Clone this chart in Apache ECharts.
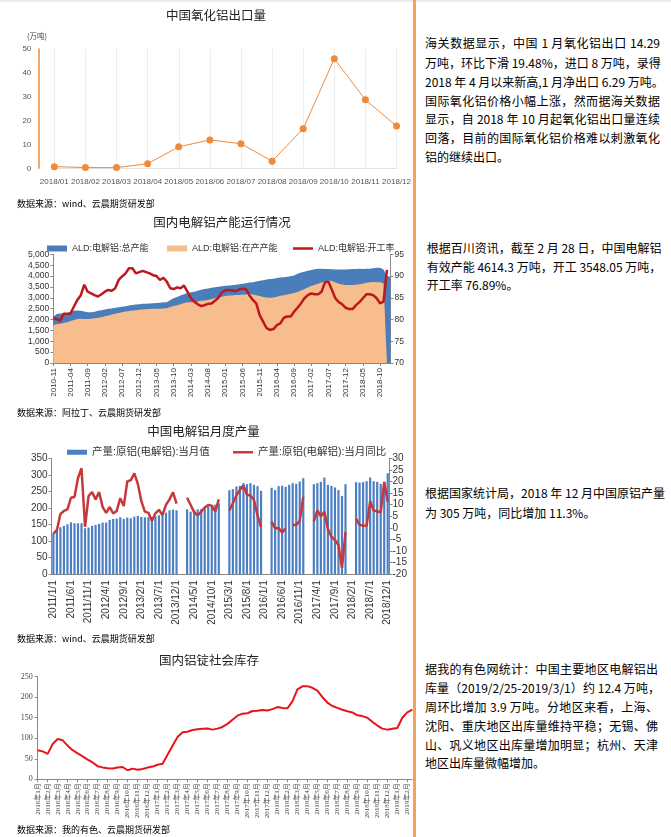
<!DOCTYPE html>
<html><head><meta charset="utf-8">
<script src="https://cdn.jsdelivr.net/npm/echarts@6/dist/echarts.min.js"></script>
<style>
body{margin:0;width:671px;height:837px;position:relative;background:#fff;overflow:hidden;font-family:"Noto Sans CJK SC",sans-serif;}
#topband{position:absolute;left:0;top:0;width:671px;height:2px;background:#ececec;}
.ch{position:absolute;left:0;width:414px;}
.t{position:absolute;white-space:nowrap;transform:translate(-50%,-50%);font-size:12.5px;color:#222;}
.src{position:absolute;left:17px;white-space:nowrap;font-size:9px;color:#000;transform:translateY(-50%);}
.unit{position:absolute;left:27px;top:30px;font-size:7.5px;color:#444;white-space:nowrap;}
.ln{position:absolute;white-space:nowrap;font-size:12px;line-height:16px;color:#000;text-align:justify;text-align-last:justify;}
.ln.l{text-align-last:left;}
#divider{position:absolute;left:413px;top:0;width:2.5px;height:837px;background:#f3a25c;}
</style></head>
<body>
<div id="topband"></div>
<div id="c1" class="ch" style="top:0;height:195px;"></div>
<div id="c2" class="ch" style="top:205px;height:205px;"></div>
<div id="c3" class="ch" style="top:415px;height:225px;"></div>
<div id="c4" class="ch" style="top:640px;height:197px;"></div>

<div class="t" style="left:216px;top:13.5px;">中国氧化铝出口量</div>
<div class="unit">(万吨)</div>
<div class="src" style="top:203px;">数据来源：wind、云晨期货研发部</div>
<div class="t" style="left:222px;top:221px;">国内电解铝产能运行情况</div>
<div class="src" style="top:411.7px;">数据来源：阿拉丁、云晨期货研发部</div>
<div class="t" style="left:203.5px;top:430px;">中国电解铝月度产量</div>
<div class="src" style="top:637.7px;">数据来源：wind、云晨期货研发部</div>
<div class="t" style="left:209px;top:659px;">国内铝锭社会库存</div>
<div class="src" style="top:829px;">数据来源：我的有色、云晨期货研发部</div>

<div id="divider"></div>

<div class="ln" style="left:425px;width:235px;top:35.3px;">海关数据显示，中国 1 月氧化铝出口 14.29</div>
<div class="ln" style="left:425px;width:235px;top:54.7px;">万吨，环比下滑 19.48%，进口 8 万吨，录得</div>
<div class="ln" style="left:425px;width:238px;top:73.7px;">2018 年 4 月以来新高,1 月净出口 6.29 万吨。</div>
<div class="ln" style="left:425px;width:235px;top:92.7px;">国际氧化铝价格小幅上涨，然而据海关数据</div>
<div class="ln" style="left:425px;width:235px;top:111.3px;">显示，自 2018 年 10 月起氧化铝出口量连续</div>
<div class="ln" style="left:425px;width:235px;top:130px;">回落，目前的国际氧化铝价格难以刺激氧化</div>
<div class="ln l" style="left:425px;width:235px;top:148.7px;">铝的继续出口。</div>

<div class="ln" style="left:426.7px;width:233.5px;top:240.3px;">根据百川资讯，截至 2 月 28 日，中国电解铝</div>
<div class="ln" style="left:426.7px;width:232px;top:258.7px;">有效产能 4614.3 万吨，开工 3548.05 万吨，</div>
<div class="ln l" style="left:426.7px;width:232px;top:277px;">开工率 76.89%。</div>

<div class="ln" style="left:425px;width:236.7px;top:485.3px;">根据国家统计局，2018 年 12 月中国原铝产量</div>
<div class="ln l" style="left:425px;width:236px;top:505.3px;">为 305 万吨，同比增加 11.3%。</div>

<div class="ln" style="left:425px;width:233px;top:661.3px;">据我的有色网统计：中国主要地区电解铝出</div>
<div class="ln" style="left:425px;width:235px;top:680.3px;">库量（2019/2/25-2019/3/1）约 12.4 万吨，</div>
<div class="ln" style="left:425px;width:233px;top:698.7px;">周环比增加 3.9 万吨。分地区来看，上海、</div>
<div class="ln" style="left:425px;width:233px;top:717.7px;">沈阳、重庆地区出库量维持平稳；无锡、佛</div>
<div class="ln" style="left:425px;width:233px;top:737px;">山、巩义地区出库量增加明显；杭州、天津</div>
<div class="ln l" style="left:425px;width:233px;top:755.3px;">地区出库量微幅增加。</div>

<script>
// ---------- DATA ----------
// Chart 1: 中国氧化铝出口量 (万吨)
const aluminaMonths = ['2018/01','2018/02','2018/03','2018/04','2018/05','2018/06','2018/07','2018/08','2018/09','2018/10','2018/11','2018/12'];
const aluminaExport = [0.7,0.3,0.3,1.9,9.0,11.9,10.3,3.0,16.6,45.9,28.7,17.7];

// Chart 2: 国内电解铝产能运行情况 (monthly 2010-11 .. 2019-01)
function monthList(y, m, n, fmt) {
  const out = [];
  for (let i = 0; i < n; i++) { out.push(fmt(y, m)); m++; if (m > 12) { m = 1; y++; } }
  return out;
}
const capMonths = monthList(2010, 11, 99, (y, m) => y + '-' + String(m).padStart(2, '0'));
const capTotal = [2130,2250,2280,2290,2300,2360,2400,2420,2400,2370,2340,2330,2360,2400,2430,2460,2490,2510,2540,2570,
  2590,2610,2640,2670,2690,2700,2720,2730,2740,2750,2760,2770,2790,2800,2900,2980,3040,3100,3160,3220,
  3250,3280,3320,3370,3400,3430,3460,3480,3510,3530,3550,3560,3580,3600,3620,3640,3670,3700,3720,3750,
  3780,3810,3840,3860,3880,3910,3930,3950,3970,3990,4030,4100,4160,4200,4240,4280,4310,4330,4330,4320,
  4320,4310,4300,4300,4300,4300,4310,4320,4320,4330,4320,4330,4340,4360,4380,4380,4300,4000,3970];
const capRunning = [1750,1780,1800,1840,1880,1930,1980,2020,2030,2020,2020,2040,2055,2080,2110,2150,2190,2230,2270,2300,
  2340,2370,2390,2410,2430,2450,2460,2470,2480,2490,2500,2500,2510,2520,2580,2620,2660,2700,2760,2790,
  2790,2800,2830,2860,2880,2900,2940,2980,3030,3050,3080,3100,3110,3130,3130,3140,3150,3170,3150,3120,
  3080,3040,3010,3000,3010,3050,3090,3120,3150,3180,3220,3270,3330,3400,3470,3540,3600,3650,3700,3750,
  3790,3770,3700,3640,3610,3590,3590,3590,3600,3620,3650,3690,3720,3730,3720,3710,3660,0,0];
const capRate = [80.4,80.1,79.7,81.3,81.3,81.4,83.0,84.5,85.6,88.0,86.4,86.0,85.6,85.3,85.8,86.4,86.8,86.6,87.2,89.1,
  89.9,90.6,91.8,91.8,90.6,90.9,91.2,90.9,90.6,90.2,90.0,89.1,89.6,88.7,87.2,87.0,87.4,87.2,87.8,86.4,
  84.9,84.1,83.5,83.1,83.3,83.6,83.7,84.3,85.0,86.2,86.7,86.8,86.7,86.5,86.9,87.1,87.0,85.6,84.5,83.7,
  81.0,79.5,78.0,77.6,77.8,78.7,79.1,80.4,80.7,80.7,81.8,82.7,83.7,84.9,85.6,86.0,85.8,85.8,86.4,88.6,
  88.7,86.8,84.9,84.0,83.5,82.7,82.4,82.4,83.3,84.0,84.9,85.8,85.8,85.6,84.9,83.7,84.1,91.4,null];
const capLeftTicks = {min: 0, max: 5000, interval: 500};
const capRightTicks = {min: 70, max: 95, interval: 5};

// Chart 3: 中国电解铝月度产量 (monthly 2011/1 .. 2018/12)
const prodMonths = monthList(2011, 1, 96, (y, m) => y + '/' + m + '/1');
const prodValue = [
  124,133,142,146,151,157,154,154,154,139,141,146,
  149,152,156,156,164,167,168,172,167,171,169,174,
  176,173,172,172,173,175,178,183,186,193,195,193,
  null,null,196,189,194,196,197,200,204,209,210,214,
  null,null,254,257,265,267,275,272,275,270,266,252,
  null,null,261,254,266,267,264,270,275,273,280,290,
  null,null,272,275,279,292,270,267,262,254,236,272,
  null,null,278,277,278,281,292,281,279,273,279,305];
const prodYoY = [
  -2.5,-1.0,6.0,7.3,8.0,13.0,13.3,21.5,25.7,0.5,13.7,15.4,
  12.3,15.4,9.0,6.5,9.0,6.2,7.3,12.8,9.4,20.0,20.6,23.5,
  19.0,11.5,7.0,6.5,3.0,6.3,7.8,5.5,10.0,12.3,15.3,10.5,
  null,null,13.0,9.9,6.8,5.4,7.0,8.8,9.9,9.6,7.0,12.3,
  null,null,7.5,10.6,14.0,16.4,18.3,14.3,14.0,12.0,5.4,0.3,
  null,null,2.7,-0.2,0.0,-2.0,-0.2,null,1.3,1.3,3.0,13.5,
  null,null,2.8,7.5,5.0,7.0,-0.5,-3.8,-5.2,-7.4,-17.2,-1.8,
  null,null,4.0,1.3,1.0,0.9,11.5,7.5,7.2,6.7,19.8,11.3];

// Chart 4: 国内铝锭社会库存 (half-monthly 2016-01 .. 2019-02)
const stockDates = [];
(function () {
  let y = 2016, m = 1;
  for (let i = 0; i < 76; i++) {
    stockDates.push(i % 2 === 0 ? (y + '年' + m + '月') : (y + '年' + m + '月下'));
    if (i % 2 === 1) { m++; if (m > 12) { m = 1; y++; } }
  }
})();
const stockValue = [71,68,62,86,98,95,82,71,63,56,48,41,32,29,27,26.5,28.5,30,22,26,
  23.5,25,28.5,31,35.5,38,60,82,103,114.5,116,120,122,123,124,121,123.5,127.5,135,145,
  155,160,161,166.5,167,169,167.5,171,176,173.5,173,190,219,226.5,227,223,216,200,187,178.5,
  174,169.5,166,163,156,154,150,140,131,123.5,121,123,125,150,163,170];

// ---------- CHARTS ----------
const SANS = "'Liberation Sans','Noto Sans CJK SC',sans-serif";
const SERIF = "'Liberation Serif','Noto Sans CJK SC',serif";
const fmtThousands = v => String(v).replace(/\B(?=(\d{3})+(?!\d))/g, ',');

// Chart 1
echarts.init(document.getElementById('c1')).setOption({
  animation: false,
  textStyle: {fontFamily: SANS},
  grid: {left: 54.3, right: 414 - 401.7, top: 49, height: 119.3},
  xAxis: {
    type: 'category', boundaryGap: false, data: aluminaMonths,
    axisLine: {lineStyle: {color: '#e2e2e2'}}, axisTick: {show: false},
    axisLabel: {interval: 0, fontSize: 8, color: '#555', margin: 9},
    splitLine: {show: true, lineStyle: {color: '#ececec'}}
  },
  yAxis: {
    type: 'value', min: 0, max: 50, interval: 10, offset: 16,
    axisLine: {show: true, lineStyle: {color: '#f0883a', width: 1.5}},
    axisTick: {show: false}, splitLine: {show: false},
    axisLabel: {fontSize: 8, color: '#555', margin: 7}
  },
  series: [{
    type: 'line', data: aluminaExport, symbol: 'circle', symbolSize: 7,
    lineStyle: {color: '#ef8a3b', width: 1}, itemStyle: {color: '#ef8a3b'}
  }]
});

// Chart 2
const N_TOTAL = 'ALD:电解铝:总产能', N_RUN = 'ALD:电解铝:在产产能', N_RATE = 'ALD:电解铝:开工率';
const legendBase = {orient: 'horizontal', itemWidth: 20, itemHeight: 6, selectedMode: false,
  textStyle: {fontSize: 9, color: '#333', fontFamily: SANS}};
echarts.init(document.getElementById('c2')).setOption({
  animation: false,
  textStyle: {fontFamily: SANS},
  legend: [
    Object.assign({}, legendBase, {left: 42, top: 34, data: [{name: N_TOTAL, icon: 'rect'}]}),
    Object.assign({}, legendBase, {left: 162, top: 34, data: [{name: N_RUN, icon: 'rect'}]}),
    Object.assign({}, legendBase, {left: 288, top: 34, itemHeight: 2.5, data: [{name: N_RATE, icon: 'rect'}]})
  ],
  grid: {left: 53.3, right: 414 - 390.4, top: 49.3, height: 108.7},
  xAxis: {
    type: 'category', boundaryGap: false, data: capMonths,
    axisLine: {lineStyle: {color: '#888'}},
    axisTick: {interval: 4, length: 3, lineStyle: {color: '#888'}},
    axisLabel: {interval: 4, rotate: 90, fontSize: 8, color: '#333', margin: 5}
  },
  yAxis: [
    Object.assign({type: 'value', position: 'left',
      axisLine: {show: true, lineStyle: {color: '#888'}},
      axisTick: {show: true, length: 3, lineStyle: {color: '#888'}},
      splitLine: {show: false},
      axisLabel: {fontSize: 8.5, color: '#333', margin: 4, formatter: fmtThousands}}, capLeftTicks),
    Object.assign({type: 'value', position: 'right',
      axisLine: {show: true, lineStyle: {color: '#888'}},
      axisTick: {show: true, length: 3, lineStyle: {color: '#888'}},
      splitLine: {show: false},
      axisLabel: {fontSize: 8.5, color: '#333', margin: 4}}, capRightTicks)
  ],
  series: [
    {name: N_TOTAL, type: 'line', data: capTotal, symbol: 'none',
      lineStyle: {opacity: 0}, itemStyle: {color: '#4a7ebb'}, areaStyle: {color: '#4a7ebb', opacity: 1}},
    {name: N_RUN, type: 'line', data: capRunning, symbol: 'none',
      lineStyle: {opacity: 0}, itemStyle: {color: '#f8bd8c'}, areaStyle: {color: '#f8bd8c', opacity: 1}},
    {name: N_RATE, type: 'line', yAxisIndex: 1, data: capRate, symbol: 'none',
      lineStyle: {color: '#c0161e', width: 2.5}, itemStyle: {color: '#c0161e'}}
  ]
});

// Chart 3
const N_VAL = '产量:原铝(电解铝):当月值', N_YOY = '产量:原铝(电解铝):当月同比';
const legend3 = {orient: 'horizontal', itemWidth: 20, itemHeight: 5, selectedMode: false,
  textStyle: {fontSize: 10.5, color: '#333', fontFamily: SANS}};
echarts.init(document.getElementById('c3')).setOption({
  animation: false,
  textStyle: {fontFamily: SANS},
  legend: [
    Object.assign({}, legend3, {left: 62, top: 27, data: [{name: N_VAL, icon: 'rect'}]}),
    Object.assign({}, legend3, {left: 228, top: 27, itemHeight: 2.5, data: [{name: N_YOY, icon: 'rect'}]})
  ],
  grid: {left: 51.6, width: 337.9, top: 43.3, height: 116},
  xAxis: {
    type: 'category', boundaryGap: true, data: prodMonths,
    axisLine: {lineStyle: {color: '#888'}},
    axisTick: {interval: 4, alignWithLabel: true, length: 3, lineStyle: {color: '#888'}},
    axisLabel: {interval: 4, rotate: 90, fontSize: 10, color: '#333', margin: 6}
  },
  yAxis: [
    {type: 'value', min: 0, max: 350, interval: 50, position: 'left',
      axisLine: {show: true, lineStyle: {color: '#888'}},
      axisTick: {show: true, length: 3, lineStyle: {color: '#888'}},
      splitLine: {show: false},
      axisLabel: {fontSize: 10, color: '#333', margin: 4}},
    {type: 'value', min: -20, max: 30, interval: 5, position: 'right',
      axisLine: {show: true, lineStyle: {color: '#888'}},
      axisTick: {show: true, length: 3, lineStyle: {color: '#888'}},
      splitLine: {show: false},
      axisLabel: {fontSize: 10, color: '#333', margin: 3}}
  ],
  series: [
    {name: N_VAL, type: 'bar', data: prodValue, barWidth: 2.2, itemStyle: {color: '#4d7fc4'}},
    {name: N_YOY, type: 'line', yAxisIndex: 1, data: prodYoY, symbol: 'none', connectNulls: false,
      lineStyle: {color: '#c7383a', width: 2.5}, itemStyle: {color: '#c7383a'}}
  ]
});

// Chart 4
echarts.init(document.getElementById('c4')).setOption({
  animation: false,
  textStyle: {fontFamily: SERIF},
  grid: {left: 37.7, right: 414 - 412.3, top: 36.7, height: 102.6},
  xAxis: {
    type: 'category', boundaryGap: false, data: stockDates,
    axisLine: {lineStyle: {color: '#888'}},
    axisTick: {interval: 1, length: 3, lineStyle: {color: '#888'}},
    axisLabel: {interval: 1, rotate: 90, fontSize: 7, color: '#444', margin: 4, fontFamily: SERIF}
  },
  yAxis: {
    type: 'value', min: 0, max: 250, interval: 50,
    axisLine: {show: true, lineStyle: {color: '#888'}},
    axisTick: {show: true, length: 3, lineStyle: {color: '#888'}},
    splitLine: {show: false},
    axisLabel: {fontSize: 8, color: '#444', margin: 5, fontFamily: SERIF}
  },
  series: [{type: 'line', data: stockValue, symbol: 'none',
    lineStyle: {color: '#e8141c', width: 2}, itemStyle: {color: '#e8141c'}}]
});
</script>
</body></html>
